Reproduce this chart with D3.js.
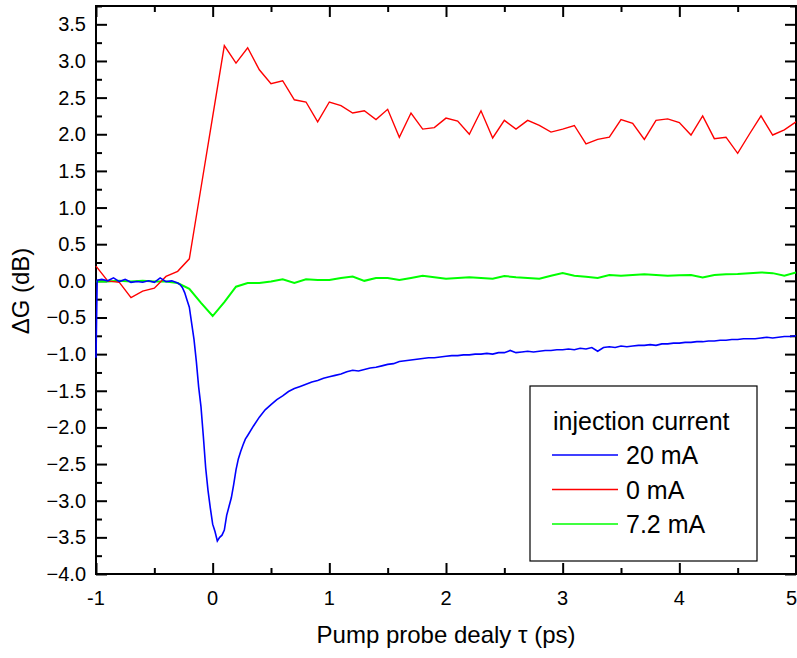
<!DOCTYPE html>
<html>
<head>
<meta charset="utf-8">
<script src="https://cdn.jsdelivr.net/npm/d3@7"></script>
<style>
  body { margin: 0; background: #fff; }
  text { font-family: 'Liberation Sans', Arial, sans-serif; }
</style>
</head>
<body>
<div id="chart"></div>
<script>
// 0 mA と 7.2 mA は 0.1 ps 刻み
var stepT = d3.range(61).map(function(i) { return -1 + i * 0.1 })

var red0 = [0.20, 0.00, -0.02, -0.23, -0.14, -0.10, 0.06, 0.13, 0.30, 1.27,
  2.24, 3.21, 2.97, 3.18, 2.88, 2.69, 2.73, 2.47, 2.44, 2.17,
  2.44, 2.39, 2.29, 2.32, 2.20, 2.34, 1.96, 2.29, 2.07, 2.09,
  2.22, 2.18, 2.00, 2.32, 1.95, 2.19, 2.07, 2.19, 2.12, 2.03,
  2.07, 2.12, 1.87, 1.93, 1.96, 2.20, 2.15, 1.93, 2.19, 2.21,
  2.16, 1.99, 2.25, 1.94, 1.96, 1.74, 2.00, 2.25, 1.99, 2.06, 2.17]

var green72 = [-0.01, -0.01, 0.00, -0.01, 0.00, -0.01, -0.01, -0.03, -0.11, -0.30,
  -0.48, -0.29, -0.08, -0.03, -0.03, -0.01, 0.02, -0.03, 0.02, 0.01,
  0.01, 0.04, 0.06, 0.00, 0.04, 0.04, 0.01, 0.04, 0.07, 0.05,
  0.03, 0.04, 0.05, 0.04, 0.03, 0.065, 0.05, 0.04, 0.03, 0.07,
  0.105, 0.07, 0.055, 0.04, 0.08, 0.07, 0.08, 0.09, 0.08, 0.07,
  0.075, 0.08, 0.045, 0.08, 0.09, 0.095, 0.105, 0.115, 0.105, 0.07, 0.115]

// 20 mA は細かいサンプリング
var blueT = [-1.0, -0.99, -0.95, -0.9, -0.85, -0.8, -0.75, -0.7, -0.65, -0.6,
  -0.55, -0.5, -0.45, -0.4, -0.35, -0.3, -0.28, -0.26, -0.24, -0.22,
  -0.2, -0.18, -0.16, -0.14, -0.12, -0.1, -0.08, -0.06, -0.04, -0.02,
  0.0, 0.02, 0.04, 0.06, 0.08, 0.1, 0.12, 0.14, 0.16, 0.18,
  0.2, 0.22, 0.24, 0.26, 0.28, 0.3, 0.35, 0.4, 0.45, 0.5,
  0.55, 0.6, 0.65, 0.7, 0.75, 0.8, 0.85, 0.9, 0.95, 1.0,
  1.05, 1.1, 1.15, 1.2, 1.25, 1.3, 1.35, 1.4, 1.45, 1.5,
  1.55, 1.6, 1.65, 1.7, 1.75, 1.8, 1.85, 1.9, 1.95, 2.0,
  2.05, 2.1, 2.15, 2.2, 2.25, 2.3, 2.35, 2.4, 2.45, 2.5,
  2.55, 2.6, 2.65, 2.7, 2.75, 2.8, 2.85, 2.9, 2.95, 3.0,
  3.05, 3.1, 3.15, 3.2, 3.25, 3.3, 3.35, 3.4, 3.45, 3.5,
  3.55, 3.6, 3.65, 3.7, 3.75, 3.8, 3.85, 3.9, 3.95, 4.0,
  4.05, 4.1, 4.15, 4.2, 4.25, 4.3, 4.35, 4.4, 4.45, 4.5,
  4.55, 4.6, 4.65, 4.7, 4.75, 4.8, 4.85, 4.9, 4.95, 5.0]
var blue20 = [-1.05, 0.01, 0.02, 0.00, 0.04, -0.01, 0.02, -0.02, -0.01, -0.02,
  0.00, -0.02, 0.04, -0.01, 0.00, -0.03, -0.05, -0.09, -0.16, -0.26,
  -0.36, -0.58, -0.80, -1.10, -1.45, -1.72, -2.12, -2.55, -2.86, -3.10,
  -3.32, -3.42, -3.55, -3.50, -3.47, -3.40, -3.20, -3.08, -2.96, -2.78,
  -2.58, -2.43, -2.33, -2.24, -2.16, -2.11, -1.98, -1.86, -1.76, -1.69,
  -1.62, -1.57, -1.51, -1.47, -1.44, -1.41, -1.38, -1.36, -1.33, -1.31,
  -1.29, -1.27, -1.24, -1.22, -1.23, -1.21, -1.19, -1.18, -1.16, -1.14,
  -1.13, -1.10, -1.09, -1.08, -1.07, -1.06, -1.05, -1.05, -1.04, -1.03,
  -1.02, -1.02, -1.01, -1.01, -1.00, -1.00, -0.99, -1.00, -0.98, -0.98,
  -0.95, -0.98, -0.97, -0.96, -0.97, -0.96, -0.95, -0.95, -0.94, -0.94,
  -0.93, -0.94, -0.92, -0.93, -0.91, -0.96, -0.91, -0.90, -0.91, -0.89,
  -0.90, -0.89, -0.88, -0.88, -0.87, -0.88, -0.86, -0.86, -0.85, -0.85,
  -0.84, -0.84, -0.83, -0.83, -0.82, -0.82, -0.81, -0.81, -0.80, -0.80,
  -0.79, -0.79, -0.79, -0.78, -0.77, -0.78, -0.77, -0.76, -0.76, -0.75]

var legendLabels = ['20 mA', '0 mA', '7.2 mA']
var legendColors = ['#0000ff', '#ff0000', '#00ff00']

var width = 797, height = 658
var plotL = 96, plotR = 796, plotT = 6, plotB = 574

var svg = d3.select('#chart').append('svg')
  .attr('width', width)
  .attr('height', height)

var x = d3.scaleLinear().domain([-1, 5]).range([plotL, plotR])
var y = d3.scaleLinear().domain([-4, 3.75]).range([plotB, plotT])

// 枠（線の下に）
svg.append('rect')
  .attr('x', plotL).attr('y', plotT)
  .attr('width', plotR - plotL).attr('height', plotB - plotT)
  .attr('fill', 'none')
  .attr('stroke', '#000')
  .attr('stroke-width', 2)

// 目盛り（内向き）
function tickAxis(axis, ticks, size, tx, ty) {
  var g = svg.append('g')
    .attr('transform', 'translate(' + tx + ',' + ty + ')')
    .call(axis.tickValues(ticks).tickSize(size).tickFormat(''))
  g.select('.domain').remove()
  g.selectAll('text').remove()
  g.selectAll('line').attr('stroke', '#000').attr('stroke-width', 2)
}
var xMajor = d3.range(-1, 5.01, 1)
var xMinor = d3.range(-0.5, 5, 1)
var yMajor = d3.range(-4, 3.51, 0.5)
var yMinor = d3.range(-3.75, 3.76, 0.5)

tickAxis(d3.axisTop(x), xMajor, 11, 0, plotB)
tickAxis(d3.axisTop(x), xMinor, 6, 0, plotB)
tickAxis(d3.axisBottom(x), xMajor, 11, 0, plotT)
tickAxis(d3.axisBottom(x), xMinor, 6, 0, plotT)
tickAxis(d3.axisRight(y), yMajor, 11, plotL, 0)
tickAxis(d3.axisRight(y), yMinor, 6, plotL, 0)
tickAxis(d3.axisLeft(y), yMajor, 11, plotR, 0)
tickAxis(d3.axisLeft(y), yMinor, 6, plotR, 0)

// 目盛りラベル
svg.append('g').selectAll('text')
  .data(xMajor)
  .enter().append('text')
  .attr('x', function(d) { return d === 5 ? width : x(d) })
  .attr('y', 605)
  .attr('text-anchor', function(d) { return d === 5 ? 'end' : 'middle' })
  .attr('font-size', 20)
  .text(function(d) { return d })

svg.append('g').selectAll('text')
  .data(yMajor)
  .enter().append('text')
  .attr('x', 86)
  .attr('y', function(d) { return y(d) + 7 })
  .attr('text-anchor', 'end')
  .attr('font-size', 20)
  .text(function(d) { return d3.format('.1f')(d) })

// clip
svg.append('defs').append('clipPath').attr('id', 'plot')
  .append('rect')
  .attr('x', plotL - 1).attr('y', plotT)
  .attr('width', plotR - plotL + 1).attr('height', plotB - plotT)

var line = d3.line()
  .x(function(d) { return x(d[0]) })
  .y(function(d) { return y(d[1]) })

var plot = svg.append('g').attr('clip-path', 'url(#plot)')

plot.append('path')
  .datum(d3.zip(stepT, green72))
  .attr('d', line)
  .attr('fill', 'none')
  .attr('stroke', '#00ff00')
  .attr('stroke-width', 2)

plot.append('path')
  .datum(d3.zip(stepT, red0))
  .attr('d', line)
  .attr('fill', 'none')
  .attr('stroke', '#ff0000')
  .attr('stroke-width', 1.4)

plot.append('path')
  .datum(d3.zip(blueT, blue20))
  .attr('d', line)
  .attr('fill', 'none')
  .attr('stroke', '#0000ff')
  .attr('stroke-width', 1.6)

// 軸タイトル
svg.append('text')
  .attr('x', 446)
  .attr('y', 643)
  .attr('text-anchor', 'middle')
  .attr('font-size', 24)
  .text('Pump probe dealy τ (ps)')

svg.append('text')
  .attr('transform', 'translate(29,291) rotate(-90)')
  .attr('text-anchor', 'middle')
  .attr('font-size', 24)
  .text('ΔG (dB)')

// 凡例
var legend = svg.append('g')
legend.append('rect')
  .attr('x', 530).attr('y', 386)
  .attr('width', 227).attr('height', 175)
  .attr('fill', '#fff')
  .attr('stroke', '#000')
  .attr('stroke-width', 1.2)

legend.append('text')
  .attr('x', 553).attr('y', 430)
  .attr('font-size', 25)
  .text('injection current')

var rows = legend.selectAll('.row')
  .data(legendLabels)
  .enter().append('g')
  .attr('class', 'row')
  .attr('transform', function(d, i) { return 'translate(0,' + (455 + i * 34.5) + ')' })

rows.append('line')
  .attr('x1', 552).attr('x2', 618)
  .attr('stroke', function(d, i) { return legendColors[i] })
  .attr('stroke-width', 1.6)

rows.append('text')
  .attr('x', 626).attr('y', 9)
  .attr('font-size', 25)
  .text(function(d) { return d })
</script>
</body>
</html>
